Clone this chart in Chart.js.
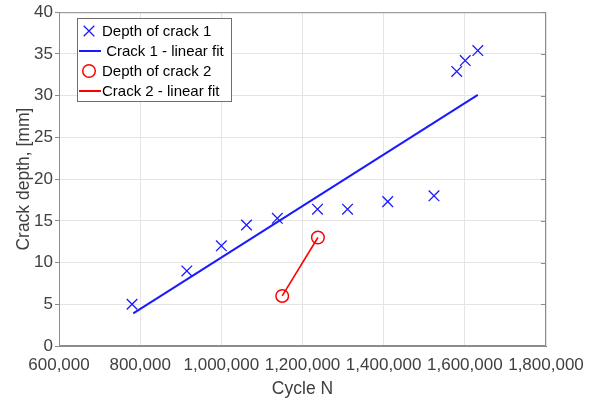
<!DOCTYPE html>
<html>
<head>
<meta charset="utf-8">
<script src="https://cdn.jsdelivr.net/npm/chart.js@4.4.1/dist/chart.umd.min.js"></script>
<style>
  html, body { margin: 0; padding: 0; background: #fff; }
  #wrap { width: 595px; height: 408px; }
</style>
</head>
<body>
<div id="wrap"><canvas id="crackChart" width="595" height="408"></canvas></div>
<script>
// crack 1 measurements (cycles, depth mm)
const crack1Cycles = [780000, 915000, 1000000, 1062000, 1138000, 1237000, 1311000, 1410000, 1524000, 1580000, 1601000, 1632000];
const crack1Depth  = [5, 9, 12, 14.5, 15.3, 16.4, 16.4, 17.3, 18, 32.9, 34.2, 35.4];
// linear fit of crack 1, end points
const fit1Cycles = [783000, 1632000];
const fit1Depth  = [3.9, 30.1];
// crack 2 measurements
const crack2Cycles = [1150000, 1238000];
const crack2Depth  = [6, 13];
const fit2Cycles = [1150000, 1238000];
const fit2Depth  = [6, 13];

const xTicks = [600000, 800000, 1000000, 1200000, 1400000, 1600000, 1800000];
const yTicks = [0, 5, 10, 15, 20, 25, 30, 35, 40];

const toPts = (xs, ys) => xs.map((x, i) => ({ x: x, y: ys[i] }));

const BLUE = '#1a1aff';
const RED = '#ff0000';
const AXIS = '#8c8c8c';
const TEXT = '#404040';
const FONT = '"Liberation Sans", Arial, sans-serif';

// box around the axes + small inward ticks on the right side
const boxPlugin = {
  id: 'box',
  afterDraw(chart) {
    const ctx = chart.ctx, a = chart.chartArea, y = chart.scales.y;
    ctx.save();
    ctx.strokeStyle = AXIS;
    ctx.lineWidth = 1;
    ctx.strokeRect(a.left + 0.5, a.top + 0.5, a.right - a.left - 1, a.bottom - a.top - 1);
    yTicks.forEach(v => {
      const py = Math.round(y.getPixelForValue(v)) + 0.5;
      ctx.beginPath();
      ctx.moveTo(a.right - 5, py);
      ctx.lineTo(a.right, py);
      ctx.stroke();
    });
    ctx.restore();
  }
};

// MATLAB-like legend box in the upper left corner
const legendPlugin = {
  id: 'matLegend',
  afterDraw(chart) {
    const ctx = chart.ctx;
    const ds = chart.data.datasets;
    const left = 77, top = 18, w = 154, h = 83;
    ctx.save();
    ctx.fillStyle = '#fff';
    ctx.fillRect(left, top, w, h);
    ctx.strokeStyle = '#6e6e6e';
    ctx.lineWidth = 1;
    ctx.strokeRect(left + 0.5, top + 0.5, w, h);
    ctx.font = '15px ' + FONT;
    ctx.textBaseline = 'middle';
    ds.forEach((d, i) => {
      const cy = top + 13 + i * 20;
      ctx.strokeStyle = d.borderColor;
      if (d.showLine) {
        ctx.lineWidth = 2;
        ctx.beginPath();
        ctx.moveTo(left + 2, cy);
        ctx.lineTo(left + 24, cy);
        ctx.stroke();
      } else {
        ctx.fillStyle = 'rgba(0,0,0,0)';
        ctx.lineWidth = d.pointBorderWidth;
        Chart.helpers.drawPoint(ctx, {
          pointStyle: d.pointStyle,
          radius: d.pointRadius,
          borderWidth: d.pointBorderWidth
        }, left + 12, cy);
      }
      ctx.fillStyle = '#000';
      ctx.fillText(d.label, left + 25, cy + 1);
    });
    ctx.restore();
  }
};

new Chart(document.getElementById('crackChart'), {
  type: 'scatter',
  data: {
    datasets: [
      {
        label: 'Depth of crack 1',
        data: toPts(crack1Cycles, crack1Depth),
        showLine: false,
        pointStyle: 'crossRot',
        pointRadius: 7.5,
        pointBorderWidth: 1.3,
        borderColor: BLUE,
        backgroundColor: BLUE
      },
      {
        label: ' Crack 1 - linear fit',
        data: toPts(fit1Cycles, fit1Depth),
        showLine: true,
        pointRadius: 0,
        borderWidth: 2,
        borderColor: BLUE
      },
      {
        label: 'Depth of crack 2',
        data: toPts(crack2Cycles, crack2Depth),
        showLine: false,
        pointStyle: 'circle',
        pointRadius: 6.3,
        pointBorderWidth: 1.5,
        borderColor: RED,
        backgroundColor: 'rgba(0,0,0,0)'
      },
      {
        label: 'Crack 2 - linear fit',
        data: toPts(fit2Cycles, fit2Depth),
        showLine: true,
        pointRadius: 0,
        borderWidth: 1.6,
        borderColor: RED
      }
    ]
  },
  options: {
    responsive: false,
    animation: false,
    layout: { padding: { left: 0, top: 10, right: 49, bottom: 0 } },
    plugins: {
      legend: { display: false },
      tooltip: { enabled: false }
    },
    scales: {
      x: {
        type: 'linear',
        min: 600000,
        max: 1800000,
        afterBuildTicks: s => { s.ticks = xTicks.map(v => ({ value: v })); },
        afterFit: s => { s.height = 62; },
        grid: { color: '#e4e4e4', tickLength: 0, drawTicks: false },
        border: { color: AXIS },
        ticks: {
          color: TEXT,
          font: { family: FONT, size: 17 },
          padding: 9,
          maxRotation: 0,
          callback: v => v.toLocaleString('en-US')
        },
        title: {
          display: true,
          text: 'Cycle N',
          color: TEXT,
          font: { family: FONT, size: 17.5 },
          padding: { top: 2, bottom: 8 }
        }
      },
      y: {
        min: 0,
        max: 40,
        afterBuildTicks: s => { s.ticks = yTicks.map(v => ({ value: v })); },
        afterFit: s => { s.width = 59; },
        grid: { color: '#e4e4e4', tickLength: 4, tickColor: AXIS },
        border: { color: AXIS },
        ticks: {
          color: TEXT,
          font: { family: FONT, size: 17 },
          padding: 2
        },
        title: {
          display: true,
          text: 'Crack depth, [mm]',
          color: TEXT,
          font: { family: FONT, size: 17.5 },
          padding: { top: 14, bottom: 0 }
        }
      }
    }
  },
  plugins: [boxPlugin, legendPlugin]
});
</script>
</body>
</html>
